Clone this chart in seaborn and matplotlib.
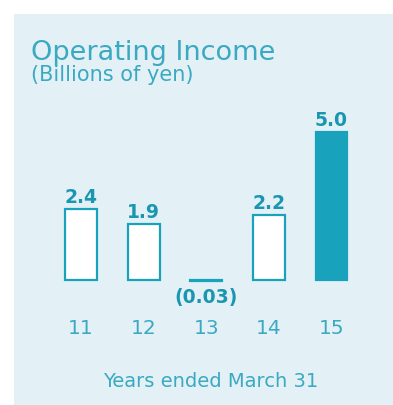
import matplotlib
matplotlib.use("Agg")
import matplotlib.pyplot as plt
from matplotlib.patches import Rectangle
import seaborn as sns
import pandas as pd

# Operating income by fiscal year (billions of yen)
years = ["11", "12", "13", "14", "15"]
values = [2.4, 1.9, -0.03, 2.2, 5.0]
value_labels = ["2.4", "1.9", "(0.03)", "2.2", "5.0"]

title = "Operating Income"
subtitle = "(Billions of yen)"
xlabel = "Years ended March 31"

panel_bg = "#e3f1f7"
teal = "#18a2bb"
text_teal = "#1a96b0"
light_teal = "#3aa9c1"

sns.set_theme(style="white")
plt.rcParams["font.family"] = ["DejaVu Sans"]

W, H = 393, 405
fig = plt.figure(figsize=(W / 100, H / 100), dpi=100)
fig.patch.set_facecolor("white")

# light blue panel behind the chart
fig.patches.append(Rectangle((14 / W, 0), 1 - 14 / W, 1 - 14 / H,
                             transform=fig.transFigure, facecolor=panel_bg,
                             edgecolor="none", zorder=-10))

# axes placed so one unit is ~29.6 px, baseline at y=280 px
ax = fig.add_axes([49.7 / W, (H - 309.6) / H, 313.1 / W, 207.2 / H])
ax.set_facecolor("none")
ax.set_zorder(5)

df = pd.DataFrame({"year": years, "value": values})
sns.barplot(data=df, x="year", y="value", ax=ax, width=0.51,
            color="white", edgecolor=teal, linewidth=1.6, saturation=1)

for i, patch in enumerate(ax.patches):
    if i == len(years) - 1:
        patch.set_facecolor(teal)

ax.set_xlim(-0.5, 4.5)
ax.set_ylim(-1, 6)

for i, (v, lab) in enumerate(zip(values, value_labels)):
    if v >= 0:
        ax.annotate(lab, (i, v), xytext=(0, 4.5), textcoords="offset points",
                    ha="center", va="baseline", fontsize=13.5,
                    fontweight="bold", color=text_teal)
    else:
        ax.annotate(lab, (i, 0), xytext=(0, -16.5), textcoords="offset points",
                    ha="center", va="baseline", fontsize=13.5,
                    fontweight="bold", color=text_teal)

ax.set_xlabel("")
ax.set_ylabel("")
ax.set_yticks([])
ax.tick_params(axis="x", length=0, pad=7, labelsize=14.5, labelcolor=light_teal)
for s in ax.spines.values():
    s.set_visible(False)

fig.text(31 / W, 1 - 60 / H, title, fontsize=19.5, color=light_teal,
         ha="left", va="baseline")
fig.text(31 / W, 1 - 81 / H, subtitle, fontsize=15, color=light_teal,
         ha="left", va="baseline")
fig.text(211 / W, 1 - 387 / H, xlabel, fontsize=14, color=light_teal,
         ha="center", va="baseline")

fig.savefig("out.png", dpi=100)
